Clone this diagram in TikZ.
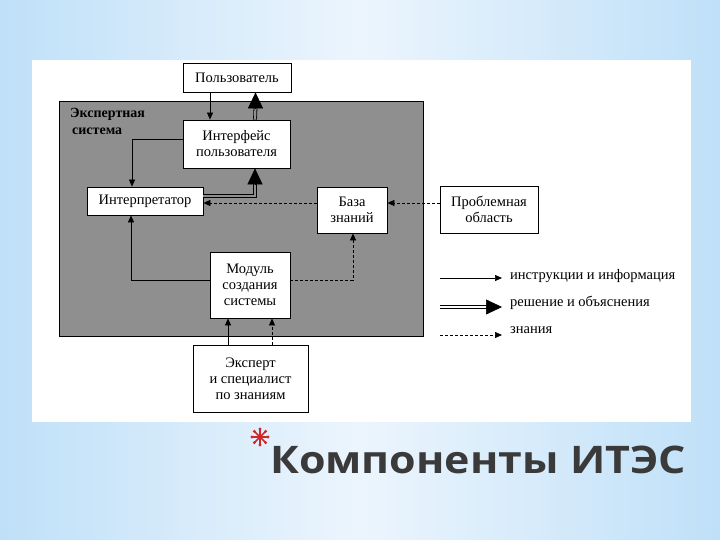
\documentclass[tikz,border=0pt]{standalone}
\usepackage{fontspec}
\setmainfont{Liberation Serif}
\newfontfamily\titlefont{Open Sans}
\usetikzlibrary{arrows.meta,calc}
\definecolor{bgblue}{HTML}{BFE0F8}
\definecolor{bglight}{HTML}{ECF5FD}
\definecolor{grayfill}{HTML}{8F8F8F}
\definecolor{titlegray}{HTML}{3A3A3A}
\definecolor{starred}{HTML}{D02828}
\begin{document}
\begin{tikzpicture}[x=1pt,y=-1pt,
 box/.style={draw=black, fill=white, line width=0.8pt, align=center, inner sep=1pt, font=\fontsize{14.5}{16}\selectfont},
 arr/.style={line width=0.7pt, -{Triangle[length=7pt,width=6pt]}},
 darr/.style={arr, dash pattern=on 3pt off 2pt},
 dbl/.style={line width=0.8pt, double=grayfill, double distance=2.2pt},
 bighead/.style={-{Triangle[length=16pt,width=15pt]}, line width=0.6pt},
 lbl/.style={font=\fontsize{14.5}{16}\selectfont, anchor=west, inner sep=0pt}
]
\useasboundingbox (0,0) rectangle (720,540);
\shade[left color=bgblue, right color=bgblue, middle color=bglight] (0,0) rectangle (720,540);
\fill[white] (32,60) rectangle (691,422);
\draw[fill=grayfill, line width=0.8pt] (59,101) rectangle (423,336);
\node[font=\bfseries\fontsize{14}{17}\selectfont, anchor=north west, align=left, inner sep=0pt] (es) at (70,108) {Экспертная\\\hspace*{2pt}система};

\node[box, minimum width=108pt, minimum height=29pt] (user) at (237,77.5) {Пользователь};
\node[box, minimum width=107pt, minimum height=48pt] (iface) at (236.5,144) {Интерфейс\\пользователя};
\node[box, minimum width=116pt, minimum height=28pt] (interp) at (145,201) {Интерпретатор};
\node[box, minimum width=70pt, minimum height=46pt] (kb) at (352,210) {База\\знаний};
\node[box, minimum width=98pt, minimum height=47pt] (prob) at (489,209.5) {Проблемная\\область};
\node[box, minimum width=80pt, minimum height=66pt] (mod) at (250,285) {Модуль\\создания\\системы};
\node[box, minimum width=115pt, minimum height=67pt] (exp) at (250.5,378.5) {Эксперт\\и специалист\\по знаниям};

% connectors
\draw[arr] ([xshift=-27pt]user.south) -- ([xshift=-26.5pt]iface.north);
\draw[dbl] ([xshift=18.5pt]iface.north) -- ([xshift=18.5pt,yshift=-15pt]user.south);
\draw[bighead] ([xshift=18.5pt,yshift=-16pt]user.south) -- ([xshift=18.5pt]user.south);
\draw[arr] ([yshift=5pt]iface.west) -| ([xshift=-13pt]interp.north);
\draw[dbl] ([yshift=5pt]interp.east) -| ([xshift=18.5pt,yshift=-15pt]iface.south);
\draw[bighead] ([xshift=18.5pt,yshift=-16pt]iface.south) -- ([xshift=18.5pt]iface.south);
\draw[darr] ([yshift=7pt]kb.west) -- ([yshift=7pt]kb.west -| interp.east);
\draw[darr] ([yshift=6.5pt]prob.west) -- ([yshift=6.5pt]prob.west -| kb.east);
\draw[arr] ([yshift=5pt]mod.west) -| ([xshift=-14pt]interp.south);
\draw[darr] ([yshift=5pt]mod.east) -| ([xshift=1pt]kb.south);
\draw[arr] ([xshift=-22.5pt]exp.north) -- ([xshift=-22.5pt]exp.north |- mod.south);
\draw[darr] ([xshift=21.5pt]exp.north) -- ([xshift=21.5pt]exp.north |- mod.south);

% legend
\coordinate (l1a) at (440,278); \coordinate (l1b) at (502,278);
\coordinate (l2a) at (440,307); \coordinate (l2m) at (487,307); \coordinate (l2b) at (502,307);
\coordinate (l3a) at (440,335); \coordinate (l3b) at (502,335);
\draw[arr] (l1a) -- (l1b);
\draw[dbl, double=white] (l2a) -- (l2m);
\draw[bighead] ([xshift=-16pt]l2b) -- (l2b);
\draw[darr] (l3a) -- (l3b);
\node[lbl] (t1) at (510,276) {инструкции и информация};
\node[lbl] (t2) at (510,303) {решение и объяснения};
\node[lbl] (t3) at (510,330) {знания};

% title
\begin{scope}[shift={(260,437)}]
\foreach \a in {0,45,...,315} {
  \draw[starred, line width=1.6pt, line cap=round] (0,0) -- (\a:8);
  \fill[starred] (\a:8) circle (1.6pt);
}
\end{scope}
\node[font=\titlefont\bfseries\fontsize{38}{40}\selectfont, text=titlegray, anchor=west, inner sep=0pt] (title) at (270,460) {\scalebox{1.13}[1]{Компоненты ИТЭС}};
\end{tikzpicture}
\end{document}
